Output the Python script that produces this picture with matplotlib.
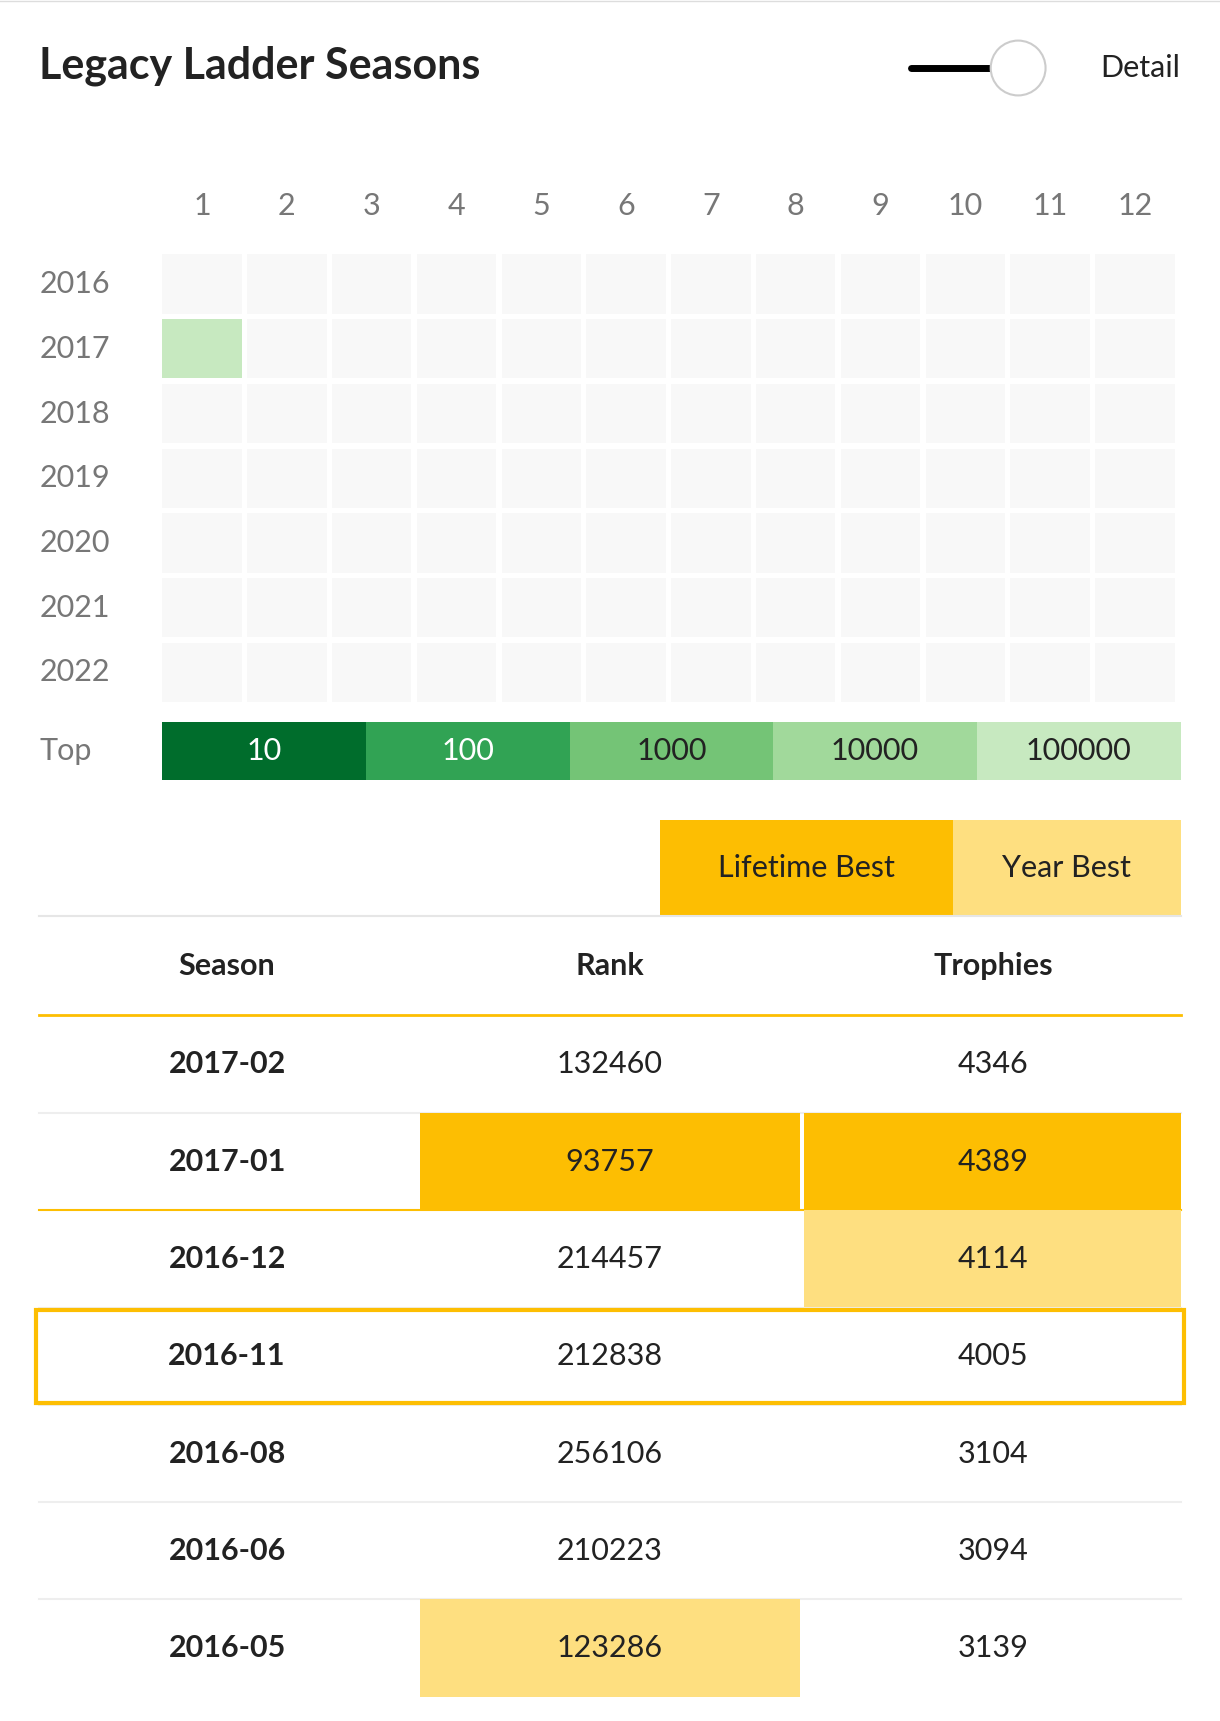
import matplotlib
matplotlib.use("Agg")
import matplotlib.pyplot as plt
from matplotlib.patches import Rectangle, Circle

plt.rcParams["font.family"] = ["Lato", "DejaVu Sans"]

years = ["2016", "2017", "2018", "2019", "2020", "2021", "2022"]
months = list(range(1, 13))
# rank bucket index per (year, month); None = no data
heat = {("2017", 1): 4}
top_labels = ["10", "100", "1000", "10000", "100000"]
top_colors = ["#006d2c", "#31a354", "#74c476", "#a1d99b", "#c7e9c0"]

seasons = ["2017-02", "2017-01", "2016-12", "2016-11", "2016-08", "2016-06", "2016-05"]
ranks = [132460, 93757, 214457, 212838, 256106, 210223, 123286]
trophies = [4346, 4389, 4114, 4005, 3104, 3094, 3139]
lifetime_best = {(1, "rank"), (1, "trophies")}
year_best = {(2, "trophies"), (6, "rank")}
current_row = 3

GOLD = "#fdbe02"
PALE = "#fedf80"
W, H = 1112, 1569

fig = plt.figure(figsize=(12.2, 17.21), dpi=100)
ax = fig.add_axes([0, 0, 1, 1])
ax.set_xlim(0, W)
ax.set_ylim(H, 0)
ax.axis("off")

ax.plot([0, W], [1, 1], color="#dddddd", lw=1)
ax.text(36, 60, "Legacy Ladder Seasons", fontsize=31, fontweight="bold", va="center", color="#222222")
ax.plot([830, 905], [62, 62], color="black", lw=5, solid_capstyle="round")
ax.add_patch(Circle((928, 62), 25, facecolor="white", edgecolor="#cccccc", lw=1.5, zorder=3))
ax.text(1076, 62, "Detail", fontsize=22, ha="right", va="center", color="#222222")

# heatmap
x0, cw, gap = 148, 77.3, 5
y0, rh = 232, 59
for j, m in enumerate(months):
    ax.text(x0 + j * cw + (cw - gap) / 2, 188, str(m), fontsize=22, ha="center", va="center", color="#777777")
for i, yr in enumerate(years):
    ax.text(36, y0 + i * rh + 27, yr, fontsize=22, va="center", color="#777777")
    for j, m in enumerate(months):
        b = heat.get((yr, m))
        c = top_colors[b] if b is not None else "#f8f8f8"
        ax.add_patch(Rectangle((x0 + j * cw, y0 + i * rh), cw - gap, rh - 5, facecolor=c, lw=0))

ax.text(36, 685, "Top", fontsize=22, va="center", color="#777777")
sw = (1076 - 148) / len(top_labels)
for k, (lab, c) in enumerate(zip(top_labels, top_colors)):
    ax.add_patch(Rectangle((148 + k * sw, 658), sw, 53, facecolor=c, lw=0))
    ax.text(148 + k * sw + sw / 2, 685, lab, fontsize=22, ha="center", va="center",
            color="white" if k < 2 else "#222222")

# buttons
ax.add_patch(Rectangle((602, 748), 267, 86, facecolor=GOLD, lw=0))
ax.add_patch(Rectangle((869, 748), 207, 86, facecolor=PALE, lw=0))
ax.text(735, 791, "Lifetime Best", fontsize=22, ha="center", va="center", color="#222222")
ax.text(972, 791, "Year Best", fontsize=22, ha="center", va="center", color="#222222")
ax.plot([36, 1076], [835, 835], color="#e6e6e6", lw=1.5)

# table
cols = [(36, 383), (383, 729), (733, 1076)]
centers = [207, 556, 905]
for c, lab in zip(centers, ["Season", "Rank", "Trophies"]):
    ax.text(c, 881, lab, fontsize=22, fontweight="bold", ha="center", va="center", color="#222222")
ax.plot([36, 1076], [925, 925], color=GOLD, lw=2)

top0, pitch = 926, 88.7
for r, (s, rk, tr) in enumerate(zip(seasons, ranks, trophies)):
    yt = top0 + r * pitch
    for key, (a, b) in zip(["rank", "trophies"], cols[1:]):
        if (r, key) in lifetime_best:
            ax.add_patch(Rectangle((a, yt), b - a, pitch, facecolor=GOLD, lw=0))
        elif (r, key) in year_best:
            ax.add_patch(Rectangle((a, yt), b - a, pitch, facecolor=PALE, lw=0))
    yc = yt + pitch / 2
    ax.text(centers[0], yc, s, fontsize=22, fontweight="bold", ha="center", va="center", color="#222222")
    ax.text(centers[1], yc, str(rk), fontsize=22, ha="center", va="center", color="#222222")
    ax.text(centers[2], yc, str(tr), fontsize=22, ha="center", va="center", color="#222222")
    if r < len(seasons) - 1:
        lc = GOLD if r == 1 else "#eeeeee"
        ax.plot([36, 1076], [yt + pitch, yt + pitch], color=lc, lw=1.5, zorder=1)
    if r == current_row:
        ax.add_patch(Rectangle((33, yt + 2), 1046, pitch - 4, facecolor="none", edgecolor=GOLD, lw=3, zorder=4))

fig.savefig("out.png", dpi=100)
